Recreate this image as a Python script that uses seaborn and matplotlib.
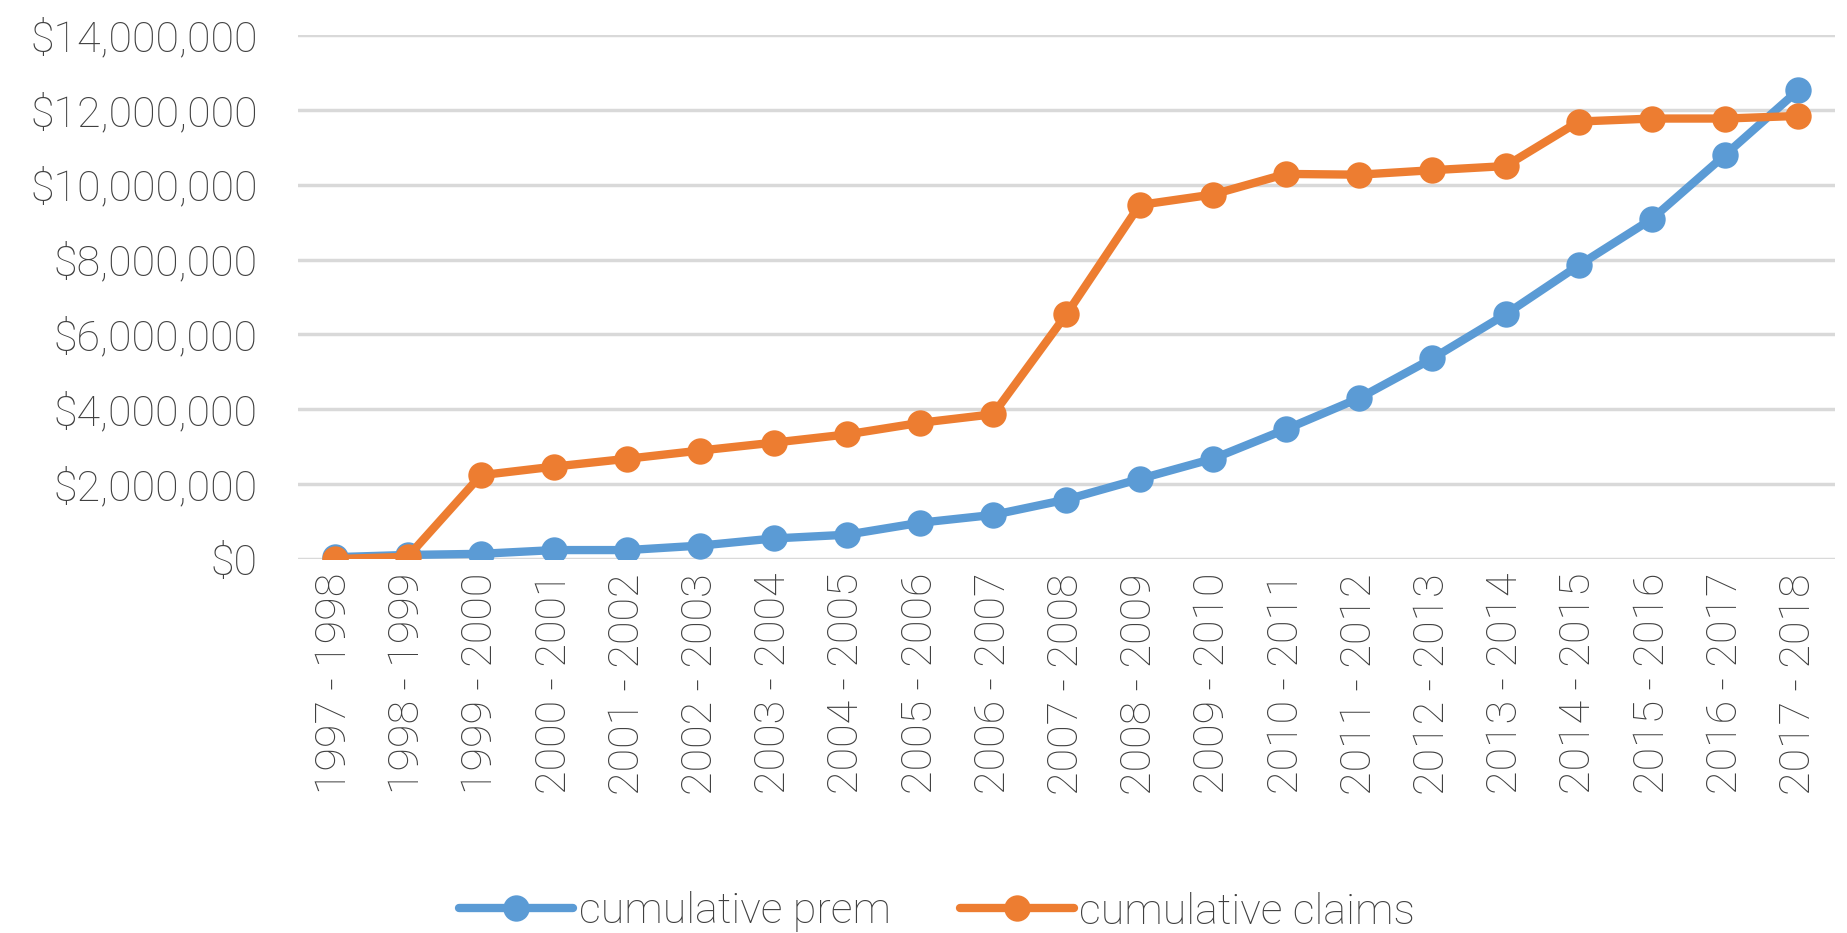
import numpy as np
import pandas as pd
import seaborn as sns
import matplotlib
matplotlib.use("Agg")
import matplotlib.pyplot as plt
from matplotlib.ticker import FuncFormatter

# fiscal years on the x axis
years = ['1997 - 1998', '1998 - 1999', '1999 - 2000', '2000 - 2001', '2001 - 2002',
         '2002 - 2003', '2003 - 2004', '2004 - 2005', '2005 - 2006', '2006 - 2007',
         '2007 - 2008', '2008 - 2009', '2009 - 2010', '2010 - 2011', '2011 - 2012',
         '2012 - 2013', '2013 - 2014', '2014 - 2015', '2015 - 2016', '2016 - 2017',
         '2017 - 2018']

# values in dollars
cumulative_prem = [50000, 110000, 140000, 240000, 240000, 360000, 550000, 650000,
                   970000, 1180000, 1590000, 2140000, 2680000, 3470000, 4300000,
                   5360000, 6540000, 7850000, 9090000, 10800000, 12530000]
cumulative_claims = [0, 60000, 2240000, 2470000, 2680000, 2900000, 3110000, 3330000,
                     3640000, 3870000, 6540000, 9460000, 9740000, 10290000, 10270000,
                     10390000, 10500000, 11690000, 11770000, 11770000, 11840000]

df = pd.DataFrame({'year': years,
                   'cumulative prem': cumulative_prem,
                   'cumulative claims': cumulative_claims})

sns.set_style("white")
plt.rcParams['font.family'] = ['Roboto', 'DejaVu Sans']
plt.rcParams['font.weight'] = 'light'

fig = plt.figure(figsize=(18.47, 9.33), dpi=100)
ax = fig.add_axes([0.1613, 0.4008, 0.8322, 0.5616])

colors = {'cumulative prem': '#5B9BD5', 'cumulative claims': '#ED7D31'}
for name in ['cumulative prem', 'cumulative claims']:
    sns.lineplot(data=df, x='year', y=name, ax=ax, color=colors[name], sort=False,
                 linewidth=6, marker='o', markersize=19, markeredgewidth=0,
                 label=name)

ax.set_xlim(-0.5, len(years) - 0.5)
ax.set_ylim(0, 14000000)
ax.set_yticks(np.arange(0, 14000001, 2000000))
ax.yaxis.set_major_formatter(FuncFormatter(lambda v, p: '${:,.0f}'.format(v)))
ax.grid(axis='y', color='#D9D9D9', linewidth=2.5)
ax.set_axisbelow(True)
for s in ax.spines.values():
    s.set_visible(False)
ax.set_xlabel('')
ax.set_ylabel('')
ax.tick_params(axis='both', length=0, labelsize=31, colors='#404040')
ax.tick_params(axis='y', pad=29)
ax.tick_params(axis='x', pad=10)
plt.setp(ax.get_xticklabels(), rotation=90)

ax.legend(loc='center', bbox_to_anchor=(937 / 1847, 1 - 912 / 933),
          bbox_transform=fig.transFigure, ncol=2, frameon=False,
          fontsize=31, handlelength=2.65, handletextpad=0.12, columnspacing=1.6,
          labelcolor='#404040', borderpad=0)

fig.savefig('out.png', dpi=100)
